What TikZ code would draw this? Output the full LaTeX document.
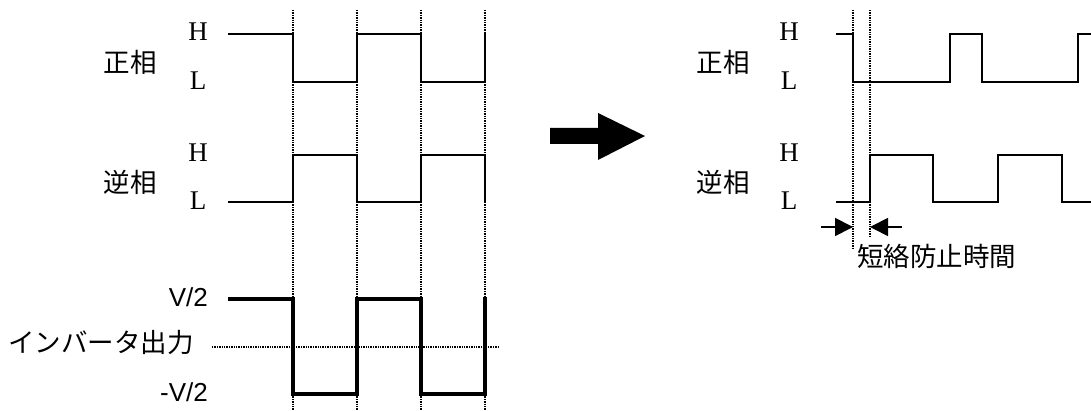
\documentclass[tikz,border=0pt]{standalone}
\usepackage{fontspec}
\setmainfont{Liberation Serif}
\newfontfamily\cjk{Noto Sans CJK JP}
\newfontfamily\arialf{Liberation Sans}
\usetikzlibrary{arrows.meta}
\tikzset{
  wave/.style={line width=1.8pt, line join=miter, line cap=rect},
  thickwave/.style={line width=4pt, line join=miter, line cap=rect},
  guide/.style={line width=1.1pt, dash pattern=on 1.4pt off 1pt},
  jp/.style={font=\cjk\fontsize{26.5}{26.5}\selectfont, inner sep=0pt},
  hl/.style={font=\fontsize{27}{27}\selectfont, inner sep=0pt},
  volt/.style={font=\arialf\fontsize{26}{26}\selectfont, inner sep=0pt, anchor=east},
  dimarrow/.style={line width=1.8pt, -{Triangle[length=18pt,width=18pt]}},
  bigarrow/.style={fill=black, draw=none}
}
\begin{document}
\begin{tikzpicture}[x=1pt,y=-1pt]
\useasboundingbox (0,0) rectangle (1091,411);

% ---------------- left panel ----------------
\node[jp] (lpos) at (130,62) {正相};
\node[hl] (lposH) at (198,32) {H};
\node[hl] (lposL) at (198,81) {L};
\node[jp] (lneg) at (130,182) {逆相};
\node[hl] (lnegH) at (198,153) {H};
\node[hl] (lnegL) at (198,201) {L};
\node[volt] (vp) at (208,297) {V/2};
\node[volt] (vm) at (208,392) {-V/2};
\node[jp, anchor=west] (inv) at (8,343) {インバータ出力};

\foreach \x in {293,357,421,485} \draw[guide] (\x,10) -- (\x,411);
\draw[guide] (212,347) -- (498,347);

\draw[wave] (229,34) -- (293,34) -- (293,82) -- (357,82) -- (357,34) -- (421,34) -- (421,82) -- (485,82) -- (485,34);
\draw[wave] (229,202) -- (293,202) -- (293,155) -- (357,155) -- (357,202) -- (421,202) -- (421,155) -- (485,155) -- (485,202);
\draw[thickwave] (230,299) -- (293,299) -- (293,394) -- (357,394) -- (357,299) -- (421,299) -- (421,394) -- (485,394) -- (485,299);

% ---------------- big arrow ----------------
\fill[bigarrow] (550,128) -- (598,128) -- (598,113) -- (645,136) -- (598,160) -- (598,144) -- (550,144) -- cycle;

% ---------------- right panel ----------------
\node[jp] (rpos) at (723,62) {正相};
\node[hl] (rposH) at (789,32) {H};
\node[hl] (rposL) at (789,81) {L};
\node[jp] (rneg) at (723,182) {逆相};
\node[hl] (rnegH) at (789,153) {H};
\node[hl] (rnegL) at (789,201) {L};

\draw[guide] (853,10) -- (853,248);
\draw[guide] (870,10) -- (870,236);

\draw[wave] (837,34) -- (853,34) -- (853,82) -- (950,82) -- (950,34) -- (982,34) -- (982,82) -- (1078,82) -- (1078,34) -- (1092,34);
\draw[wave] (837,202) -- (870,202) -- (870,155) -- (933,155) -- (933,202) -- (998,202) -- (998,155) -- (1062,155) -- (1062,202) -- (1092,202);

\coordinate (da1) at (821,227);
\coordinate (da2) at (853,227);
\coordinate (db1) at (902,227);
\coordinate (db2) at (870,227);
\draw[dimarrow] (da1) -- (da2);
\draw[dimarrow] (db1) -- (db2);
\node[jp, anchor=west] (dead) at (857,256) {短絡防止時間};
\end{tikzpicture}
\end{document}
